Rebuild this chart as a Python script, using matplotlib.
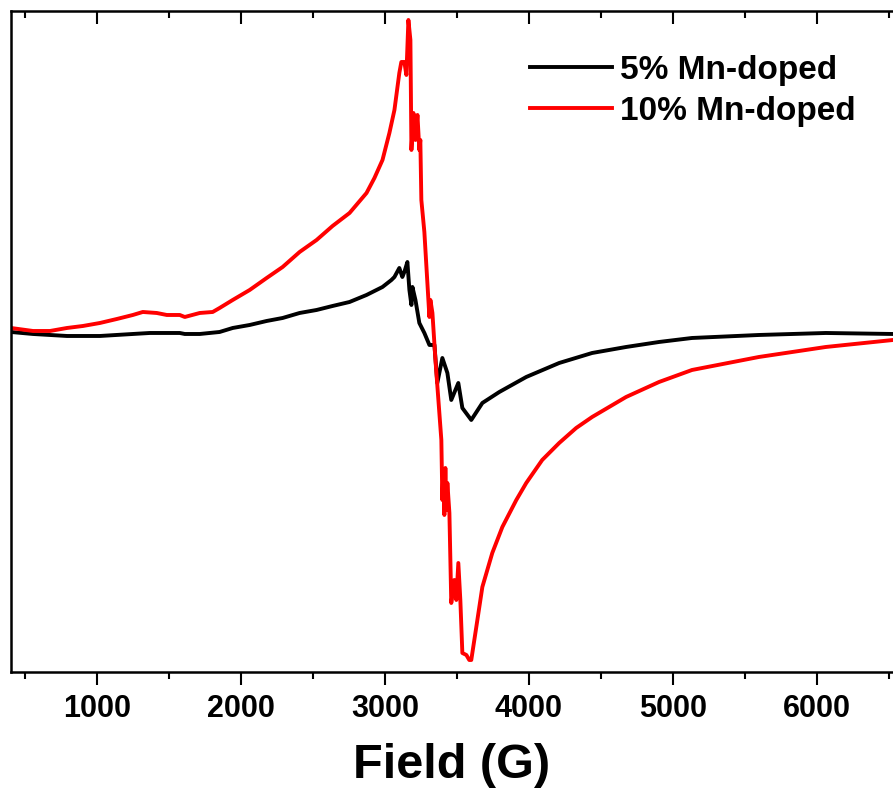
import matplotlib
matplotlib.use("Agg")
import matplotlib.pyplot as plt
from matplotlib.ticker import MultipleLocator

plt.rcParams['font.family'] = ['Liberation Sans', 'DejaVu Sans']
plt.rcParams['font.weight'] = 'bold'

# EPR spectra, field in G, intensity in arbitrary units
field_5 = [400, 553, 789, 1018, 1247, 1365, 1573, 1608, 1712, 1850, 1941, 2059,
           2177, 2288, 2406, 2524, 2635, 2753, 2871, 2982, 3044, 3065, 3099, 3120,
           3134, 3155, 3169, 3183, 3190, 3211, 3238, 3273, 3308, 3343, 3363, 3398,
           3433, 3460, 3509, 3537, 3599, 3676, 3794, 3981, 4210, 4439, 4675, 4904,
           5133, 5598, 6063, 6530]
signal_5 = [1, -1, -3, -3, -1, 0, 0, -1, -1, 1, 5, 8,
            12, 15, 20, 23, 27, 31, 38, 46, 53, 56, 65, 56,
            61, 71, 43, 28, 46, 33, 10, 0, -12, -12, -50, -25,
            -40, -67, -50, -75, -87, -70, -59, -44, -30, -20, -14, -9,
            -5, -2, 0, -1]

field_10 = [400, 553, 671, 789, 900, 1018, 1136, 1247, 1316, 1413, 1483, 1573,
            1608, 1712, 1802, 1850, 1941, 2059, 2177, 2288, 2406, 2524, 2635, 2753,
            2871, 2926, 2982, 3030, 3065, 3099, 3113, 3134, 3148, 3162, 3176, 3183,
            3197, 3211, 3225, 3238, 3245, 3252, 3273, 3308, 3315, 3329, 3350, 3391,
            3398, 3405, 3412, 3419, 3426, 3433, 3447, 3460, 3481, 3495, 3509, 3523,
            3537, 3565, 3585, 3599, 3634, 3676, 3745, 3815, 3912, 3981, 4092, 4210,
            4328, 4439, 4675, 4904, 5133, 5598, 6063, 6530]
signal_10 = [5, 2, 2, 5, 7, 10, 14, 18, 21, 20, 18, 18,
             16, 20, 21, 25, 33, 43, 55, 66, 81, 93, 107, 120,
             140, 155, 173, 200, 223, 260, 271, 271, 258, 313, 293, 183,
             220, 193, 218, 183, 193, 133, 101, 16, 33, 20, -27, -107,
             -167, -137, -182, -135, -177, -150, -180, -270, -247, -267, -230, -267,
             -320, -322, -327, -327, -294, -254, -220, -194, -167, -150, -127, -110,
             -95, -84, -64, -49, -37, -24, -14, -7]

labels = ['5% Mn-doped', '10% Mn-doped']
colors = ['black', 'red']

fig = plt.figure(figsize=(8.93, 8.07), dpi=100)
ax = fig.add_axes([0.0123, 0.1673, 0.9877, 0.8191])

ax.plot(field_5, signal_5, color=colors[0], lw=2.8, label=labels[0],
        solid_joinstyle='round')
ax.plot(field_10, signal_10, color=colors[1], lw=2.8, label=labels[1],
        solid_joinstyle='round')

ax.set_xlim(400, 6530)
ax.set_ylim(-339, 322)
ax.set_yticks([])
ax.spines['right'].set_visible(False)
for s in ['left', 'top', 'bottom']:
    ax.spines[s].set_linewidth(1.8)

ax.xaxis.set_major_locator(MultipleLocator(1000))
ax.xaxis.set_minor_locator(MultipleLocator(500))
ax.tick_params(axis='x', which='major', direction='out', length=9.5, width=1.5,
               labelsize=22, pad=6, top=True)
ax.tick_params(axis='x', which='minor', direction='out', length=5, width=1.5, top=True)
# top ticks point into the plot
for t in ax.xaxis.get_major_ticks() + ax.xaxis.get_minor_ticks():
    t.tick2line.set_marker(3)
for lab in ax.get_xticklabels():
    lab.set_fontweight('bold')

ax.set_xlabel('Field (G)', fontsize=35, fontweight='bold', labelpad=14)

leg = ax.legend(loc='upper right', bbox_to_anchor=(0.992, 0.979), frameon=False,
                fontsize=24, handlelength=2.45, handletextpad=0.25, labelspacing=0.3)
for t in leg.get_texts():
    t.set_fontweight('bold')

fig.savefig('out.png', dpi=100)
